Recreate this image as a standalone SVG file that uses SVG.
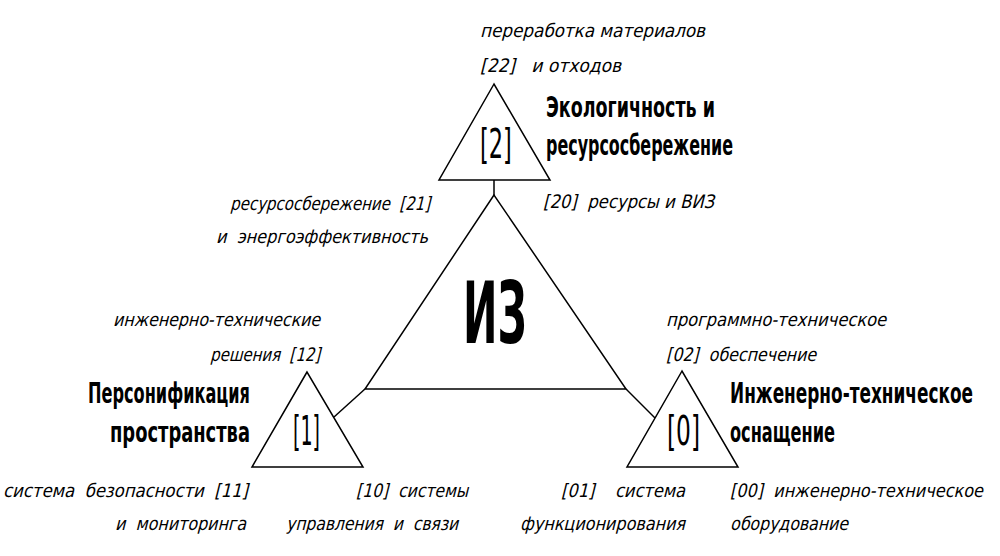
<svg xmlns="http://www.w3.org/2000/svg" width="1000" height="556" viewBox="0 0 1000 556">
<style>
.shape{fill:none;stroke:#000;stroke-width:1.5;stroke-linejoin:miter}
.lbl{font-family:"DejaVu Sans Condensed","DejaVu Sans",sans-serif;font-size:18.5px;fill:#000}
.ttl{font-family:"DejaVu Sans Condensed","DejaVu Sans",sans-serif;font-weight:bold;font-size:28px;fill:#000}
.idx{font-family:"DejaVu Sans Condensed","DejaVu Sans",sans-serif;font-size:40px;fill:#000}
.big{font-family:"DejaVu Sans Condensed","DejaVu Sans",sans-serif;font-weight:bold;font-size:86px;fill:#000}
</style>
<rect width="1000" height="556" fill="#fff"/>
<g id="connectors">
<path class="shape" d="M494,180 L494,195"/>
<path class="shape" d="M365,389 L334,417"/>
<path class="shape" d="M626,389 L655,418"/>
</g>
<g id="node-iz">
<polygon class="shape" points="494,195 365,389 626,389"/>
<text class="big" transform="translate(463,343) scale(0.55,1)" x="0" y="0" textLength="116" lengthAdjust="spacingAndGlyphs">ИЗ</text>
</g>
<g id="node-2">
<polygon class="shape" points="494,84 439,180 550,180"/>
<text class="idx" transform="translate(480,158) scale(0.65,1)" x="0" y="0" textLength="49" lengthAdjust="spacingAndGlyphs">[2]</text>
<text class="ttl" transform="translate(546,117) scale(0.72,1)" x="0" y="0" textLength="234.7" lengthAdjust="spacingAndGlyphs">Экологичность и</text>
<text class="ttl" transform="translate(546,155) scale(0.72,1)" x="0" y="0" textLength="259.7" lengthAdjust="spacingAndGlyphs">ресурсосбережение</text>
<text class="lbl" transform="translate(480,37) skewX(-14)" x="0" y="0" textLength="225" lengthAdjust="spacingAndGlyphs">переработка материалов</text>
<text class="lbl" transform="translate(480,72) skewX(-14)" x="0" y="0" textLength="141" lengthAdjust="spacingAndGlyphs" xml:space="preserve">[22]   и отходов</text>
<text class="lbl" transform="translate(543,208) skewX(-14)" x="0" y="0" textLength="171" lengthAdjust="spacingAndGlyphs" xml:space="preserve">[20]  ресурсы и ВИЗ</text>
<text class="lbl" transform="translate(230,210) skewX(-14)" x="0" y="0" textLength="200" lengthAdjust="spacingAndGlyphs" xml:space="preserve">ресурсосбережение  [21]</text>
<text class="lbl" transform="translate(216,243) skewX(-14)" x="0" y="0" textLength="212" lengthAdjust="spacingAndGlyphs" xml:space="preserve">и  энергоэффективность</text>
</g>
<g id="node-1">
<polygon class="shape" points="307,372 252,467 363,467"/>
<text class="idx" transform="translate(293,445) scale(0.65,1)" x="0" y="0" textLength="41.5" lengthAdjust="spacingAndGlyphs">[1]</text>
<text class="ttl" transform="translate(88,403) scale(0.72,1)" x="0" y="0" textLength="225" lengthAdjust="spacingAndGlyphs">Персонификация</text>
<text class="ttl" transform="translate(110,442) scale(0.72,1)" x="0" y="0" textLength="194.4" lengthAdjust="spacingAndGlyphs">пространства</text>
<text class="lbl" transform="translate(113,326) skewX(-14)" x="0" y="0" textLength="207" lengthAdjust="spacingAndGlyphs">инженерно-технические</text>
<text class="lbl" transform="translate(210,361) skewX(-14)" x="0" y="0" textLength="110" lengthAdjust="spacingAndGlyphs" xml:space="preserve">решения  [12]</text>
<text class="lbl" transform="translate(3,497) skewX(-14)" x="0" y="0" textLength="245" lengthAdjust="spacingAndGlyphs" xml:space="preserve">система  безопасности  [11]</text>
<text class="lbl" transform="translate(115,530) skewX(-14)" x="0" y="0" textLength="131" lengthAdjust="spacingAndGlyphs" xml:space="preserve">и  мониторинга</text>
<text class="lbl" transform="translate(356,497) skewX(-14)" x="0" y="0" textLength="112" lengthAdjust="spacingAndGlyphs" xml:space="preserve">[10]  системы</text>
<text class="lbl" transform="translate(286,530) skewX(-14)" x="0" y="0" textLength="172" lengthAdjust="spacingAndGlyphs" xml:space="preserve">управления  и  связи</text>
</g>
<g id="node-0">
<polygon class="shape" points="682,371 627,467 738,467"/>
<text class="idx" transform="translate(667,445) scale(0.65,1)" x="0" y="0" textLength="50.8" lengthAdjust="spacingAndGlyphs">[0]</text>
<text class="ttl" transform="translate(730,403) scale(0.72,1)" x="0" y="0" textLength="337.5" lengthAdjust="spacingAndGlyphs">Инженерно-техническое</text>
<text class="ttl" transform="translate(730,442) scale(0.72,1)" x="0" y="0" textLength="145.8" lengthAdjust="spacingAndGlyphs">оснащение</text>
<text class="lbl" transform="translate(666,326) skewX(-14)" x="0" y="0" textLength="220" lengthAdjust="spacingAndGlyphs">программно-техническое</text>
<text class="lbl" transform="translate(666,361) skewX(-14)" x="0" y="0" textLength="150" lengthAdjust="spacingAndGlyphs" xml:space="preserve">[02]  обеспечение</text>
<text class="lbl" transform="translate(561,497) skewX(-14)" x="0" y="0" textLength="124" lengthAdjust="spacingAndGlyphs" xml:space="preserve">[01]    система</text>
<text class="lbl" transform="translate(520,530) skewX(-14)" x="0" y="0" textLength="165" lengthAdjust="spacingAndGlyphs">функционирования</text>
<text class="lbl" transform="translate(730,497) scale(0.88,1) skewX(-14)" x="0" y="0" textLength="287.5" lengthAdjust="spacingAndGlyphs" xml:space="preserve">[00]  инженерно-техническое</text>
<text class="lbl" transform="translate(730,530) skewX(-14)" x="0" y="0" textLength="118" lengthAdjust="spacingAndGlyphs">оборудование</text>
</g>
</svg>
